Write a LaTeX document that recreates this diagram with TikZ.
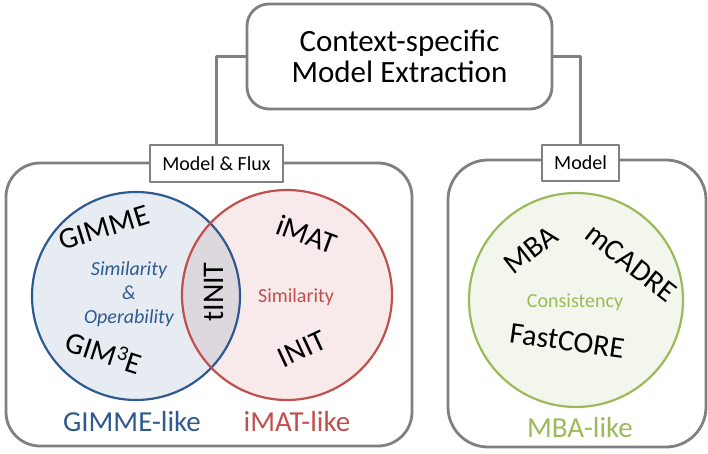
\documentclass[tikz,border=0pt]{standalone}
\usepackage{fontspec}
\setmainfont{Carlito}
\usetikzlibrary{positioning}
\definecolor{boxgray}{HTML}{808080}
\definecolor{gblue}{HTML}{2F5A8F}
\definecolor{gred}{HTML}{C0504D}
\definecolor{ggreen}{HTML}{9BBB59}
\definecolor{fblue}{HTML}{E7EBF2}
\definecolor{fred}{HTML}{F8EAEA}
\definecolor{fboth}{HTML}{DDD7DE}
\definecolor{fgreen}{HTML}{F3F6EC}
\begin{document}
\begin{tikzpicture}[line cap=round,line join=round,x=1pt,y=-1pt,
  frame/.style={draw=boxgray,line width=2.8pt,rounded corners=34pt},
  tag/.style={draw=boxgray,line width=1.2pt,fill=white,inner sep=0pt,font=\fontsize{20}{24}\selectfont},
  big/.style={inner sep=0pt,font=\fontsize{30}{32}\selectfont},
  mid/.style={inner sep=0pt,font=\fontsize{20}{24}\selectfont},
  like/.style={inner sep=0pt,font=\fontsize{29}{32}\selectfont}]
\useasboundingbox (0,0) rectangle (708,454);
% top box
\node[frame,rounded corners=22pt,minimum width=305pt,minimum height=105pt,align=center,
  font=\fontsize{31}{31}\selectfont] (top) at (399.5,56.5) {Context-specific\\Model Extraction};
% group frames
\draw[frame] (6,163) rectangle (412,446);
\draw[frame,rounded corners=40pt] (448,160) rectangle (706,447);
\node[tag,minimum width=133pt,minimum height=37pt] (lflux) at (216.5,163.5) {Model \& Flux};
\node[tag,minimum width=77pt,minimum height=36pt] (lmodel) at (580.5,163) {Model};
\draw[boxgray,line width=3pt,line cap=butt] (top.west) -| (lflux.north);
\draw[boxgray,line width=3pt,line cap=butt] (top.east) -| (lmodel.north);
% venn
\fill[fblue] (136,296) circle (104);
\fill[fred] (287,295) circle (105);
\begin{scope}
\clip (136,296) circle (104);
\fill[fboth] (287,295) circle (105);
\end{scope}
\draw[gblue,line width=2.2pt] (136,296) circle (104);
\draw[gred,line width=2.2pt] (287,295) circle (105);
\fill[fgreen] (576,300) circle (107);
\draw[ggreen,line width=2.2pt] (576,300) circle (107);
% labels
\node[big,rotate=17] (gimme) at (104,228) {GIMME};
\node[mid,gblue,align=center,font=\fontsize{20}{24}\selectfont\itshape] (simop) at (129,294) {Similarity\\\&\\Operability};
\node[big,rotate=-18] (gimthree) at (104,352) {GIM\textsuperscript{3}E};
\node[big,rotate=90] (tinit) at (214,292) {tINIT};
\node[big,rotate=-20] (imat) at (307,234) {iMAT};
\node[mid,gred] (simred) at (296,297) {Similarity};
\node[big,rotate=25] (init) at (302,349) {INIT};
\node[like,gblue] (gimlike) at (132,422) {GIMME-like};
\node[like,gred] (imatlike) at (297,422) {iMAT-like};
\node[big,rotate=38] (mba) at (531,250) {MBA};
\node[big,rotate=-38] (mcadre) at (631,263) {mCADRE};
\node[mid,ggreen] (consist) at (575,302) {Consistency};
\node[big,rotate=-8] (fastcore) at (567,341) {FastCORE};
\node[like,ggreen] (mbalike) at (580,428) {MBA-like};
\end{tikzpicture}
\end{document}
